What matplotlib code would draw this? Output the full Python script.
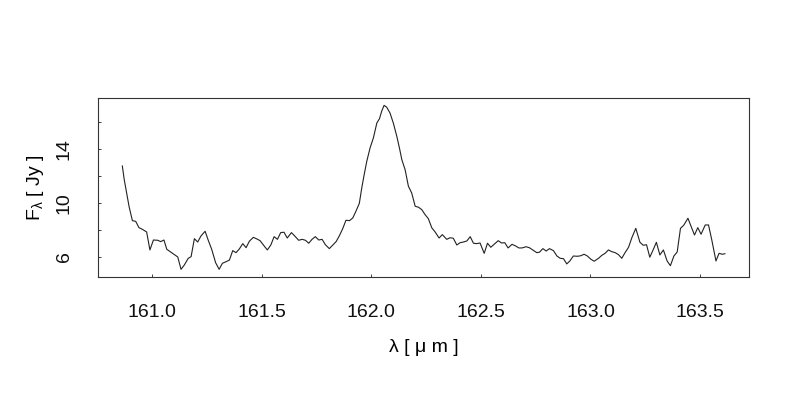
import matplotlib
matplotlib.use("Agg")
import matplotlib.pyplot as plt

plt.rcParams['font.family'] = ['Liberation Sans', 'DejaVu Sans']
plt.rcParams['mathtext.fontset'] = 'custom'
plt.rcParams['mathtext.rm'] = 'Liberation Sans'
plt.rcParams['mathtext.it'] = 'Liberation Sans'

# spectrum: wavelength (micron) and flux (Jy)
wavelength = [
    160.863, 160.872, 160.883, 160.894, 160.909, 160.924, 160.939, 160.954, 160.974, 160.989,
    161.005, 161.025, 161.038, 161.053, 161.066, 161.085, 161.100, 161.116, 161.131, 161.146,
    161.164, 161.177, 161.192, 161.207, 161.222, 161.241, 161.256, 161.271, 161.289, 161.305,
    161.320, 161.337, 161.352, 161.367, 161.382, 161.397, 161.413, 161.428, 161.443, 161.461,
    161.477, 161.492, 161.507, 161.525, 161.541, 161.556, 161.571, 161.586, 161.601,
    161.616, 161.635, 161.650, 161.668, 161.684, 161.699, 161.714, 161.729, 161.744, 161.760,
    161.775, 161.790, 161.808, 161.824, 161.839, 161.854, 161.869, 161.884, 161.900, 161.915,
    161.930, 161.945, 161.956, 161.967, 161.979, 161.994, 162.009, 162.025, 162.037, 162.047,
    162.058, 162.070, 162.085, 162.100, 162.116, 162.128, 162.139, 162.154, 162.169, 162.184,
    162.200, 162.215, 162.230, 162.245, 162.260, 162.276, 162.291, 162.309, 162.324, 162.344,
    162.359, 162.374, 162.390, 162.405, 162.420, 162.436, 162.451, 162.466, 162.481, 162.496,
    162.515, 162.530, 162.545, 162.560, 162.579, 162.594, 162.609, 162.624, 162.642, 162.658,
    162.673, 162.688, 162.706, 162.721, 162.737, 162.755, 162.767, 162.783, 162.798, 162.813,
    162.831, 162.847, 162.862, 162.877, 162.892, 162.907, 162.922, 162.941, 162.956, 162.971,
    162.986, 163.002, 163.017, 163.037, 163.052, 163.067, 163.082, 163.098, 163.113, 163.128,
    163.143, 163.158, 163.174, 163.189, 163.207, 163.226, 163.241, 163.256, 163.271, 163.286,
    163.301, 163.317, 163.333, 163.350, 163.365, 163.381, 163.396, 163.411, 163.426, 163.445,
    163.460, 163.475, 163.490, 163.505, 163.524, 163.539, 163.554, 163.573, 163.587, 163.602,
    163.614,
]
flux = [
    12.75, 11.71, 10.72, 9.72, 8.68, 8.63, 8.16, 8.04, 7.84, 6.50,
    7.24, 7.22, 7.12, 7.24, 6.55, 6.33, 6.15, 5.98, 5.06, 5.38,
    5.88, 6.00, 7.34, 7.09, 7.54, 7.89, 7.19, 6.55, 5.55, 5.06,
    5.51, 5.63, 5.75, 6.45, 6.30, 6.57, 6.97, 6.67, 7.15, 7.44,
    7.32, 7.19, 6.87, 6.50, 6.87, 7.49, 7.29, 7.79, 7.82,
    7.39, 7.79, 7.54, 7.22, 7.29, 7.22, 7.00, 7.29, 7.49, 7.24,
    7.29, 6.89, 6.60, 6.87, 7.12, 7.56, 8.08, 8.71, 8.68, 8.88,
    9.40, 9.97, 11.11, 12.10, 13.10, 14.09, 14.83, 15.95, 16.27, 16.82,
    17.26, 17.12, 16.69, 15.95, 14.96, 14.09, 13.22, 12.47, 11.24, 10.74,
    9.75, 9.68, 9.50, 9.13, 8.83, 8.14, 7.84, 7.39, 7.64, 7.29,
    7.41, 7.37, 6.87, 7.04, 7.09, 7.17, 7.49, 7.00, 6.97, 7.02,
    6.25, 7.00, 6.70, 6.92, 7.19, 7.02, 7.04, 6.65, 6.92, 6.80,
    6.65, 6.65, 6.74, 6.67, 6.50, 6.30, 6.33, 6.60, 6.42, 6.60,
    6.45, 6.05, 5.88, 5.85, 5.46, 5.70, 6.05, 6.03, 6.07, 6.18,
    6.05, 5.81, 5.66, 5.88, 6.10, 6.25, 6.50, 6.37, 6.30, 6.15,
    5.88, 6.30, 6.70, 7.41, 8.11, 7.07, 6.85, 6.89, 5.96, 6.50,
    7.07, 6.13, 6.50, 5.68, 5.33, 6.05, 6.35, 8.11, 8.34, 8.86,
    8.23, 7.61, 8.16, 7.67, 8.36, 8.36, 7.24, 5.68, 6.25, 6.18,
    6.22,
]

xticks = [161.0, 161.5, 162.0, 162.5, 163.0, 163.5]
xtick_labels = ['161.0', '161.5', '162.0', '162.5', '163.0', '163.5']
yticks = [6, 8, 10, 12, 14, 16]
ytick_labels = ['6', '', '10', '', '14', '']

fig = plt.figure(figsize=(8, 4), dpi=100)
ax = fig.add_axes([0.1225, 0.3068, 0.8138, 0.4475])

ax.plot(wavelength, flux, color='#222222', lw=0.8)

ax.set_xlim(160.752, 163.724)
ax.set_ylim(4.467, 17.786)

ax.set_xticks(xticks)
ax.set_xticklabels(xtick_labels, fontsize=14)
ax.set_yticks(yticks)
ax.set_yticklabels(ytick_labels, fontsize=14, rotation=90, va='center')
ax.tick_params(axis='both', direction='in', length=2.5, width=0.6, colors='#222222')
ax.tick_params(axis='x', pad=19, labelcolor='#111111')
ax.tick_params(axis='y', pad=18, labelcolor='#111111')

for s in ax.spines.values():
    s.set_linewidth(0.8)
    s.set_color('#333333')

ax.set_xlabel('λ [ μ m ]', fontsize=14, va='center')
ax.xaxis.set_label_coords(0.5, -0.395)
ax.set_ylabel(r'F$_{λ}$ [ Jy ]', fontsize=14, va='center', ha='center')
ax.yaxis.set_label_coords(-0.096, 0.5)

fig.savefig('out.png', dpi=100)
